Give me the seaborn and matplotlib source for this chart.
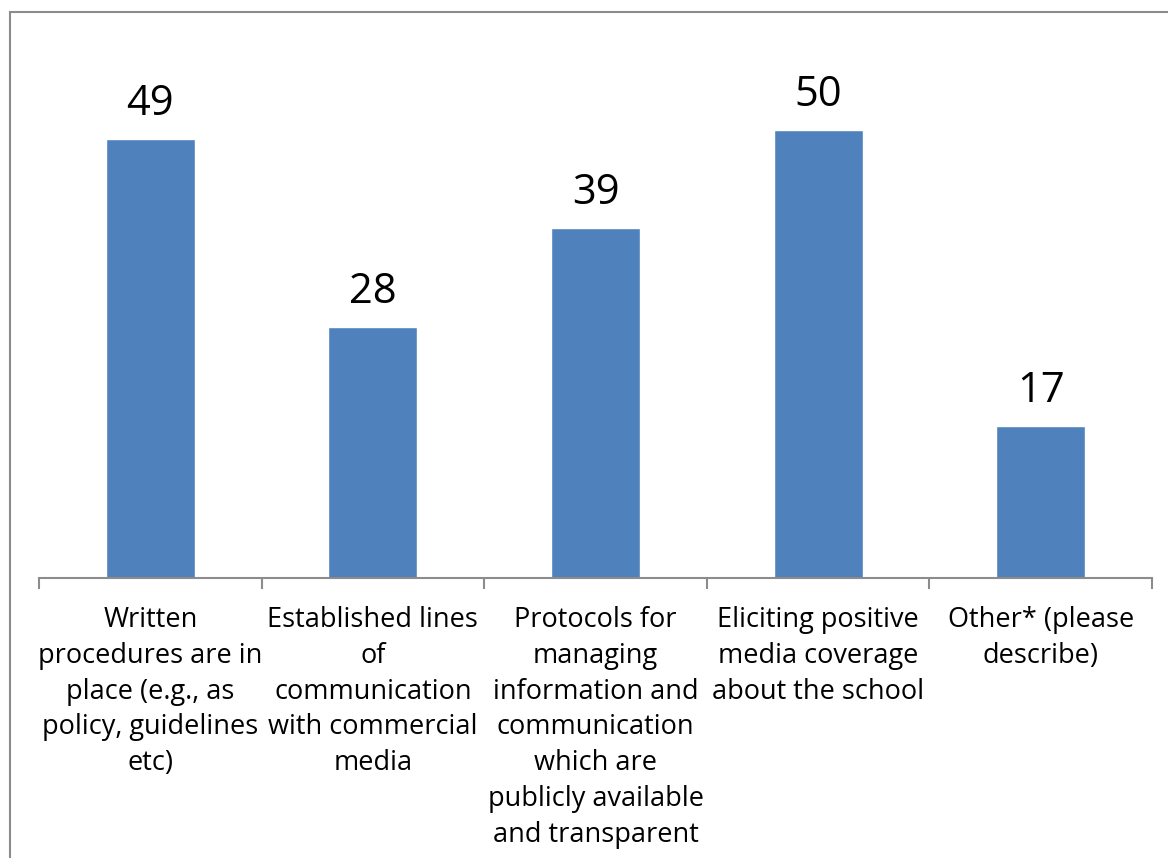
import matplotlib
matplotlib.use("Agg")
import matplotlib.pyplot as plt
from matplotlib.patches import Rectangle
import seaborn as sns
import pandas as pd

categories = [
    "Written\nprocedures are in\nplace (e.g., as\npolicy, guidelines\netc)",
    "Established lines\nof\ncommunication\nwith commercial\nmedia",
    "Protocols for\nmanaging\ninformation and\ncommunication\nwhich are\npublicly available\nand transparent",
    "Eliciting positive\nmedia coverage\nabout the school",
    "Other* (please\ndescribe)",
]
values = [49, 28, 39, 50, 17]

df = pd.DataFrame({"category": categories, "value": values})

sns.set_theme(style="white")
plt.rcParams["font.family"] = ["Open Sans", "DejaVu Sans"]

W, H = 1168, 858
fig = plt.figure(figsize=(W / 100, H / 100), dpi=100)
ax = fig.add_axes([39 / W, (H - 578) / H, (1152 - 39) / W, (578 - 40) / H])

sns.barplot(data=df, x="category", y="value", color="#4F81BD", width=0.4,
            saturation=1, ax=ax)

ax.set_ylim(0, 60)
ax.set_xlim(-0.5, len(categories) - 0.5)
ax.set_xlabel("")
ax.set_ylabel("")
ax.set_yticks([])

for s in ["top", "right", "left"]:
    ax.spines[s].set_visible(False)
ax.spines["bottom"].set_color("#8c8c8c")
ax.spines["bottom"].set_linewidth(1.5)

# category boundaries carry the tick marks; labels sit at the centres
ax.set_xticks([i - 0.5 for i in range(len(categories) + 1)], minor=True)
ax.tick_params(axis="x", which="minor", length=8, width=1.5, color="#8c8c8c",
               direction="out", bottom=True)
ax.tick_params(axis="x", which="major", length=0, pad=20)
ax.set_xticks(range(len(categories)))
ax.set_xticklabels(categories, fontsize=19.5, color="black", linespacing=1.375,
                   va="top", ha="center")

for i, v in enumerate(values):
    ax.annotate(str(v), (i, v), xytext=(0, 10), textcoords="offset points",
                ha="center", va="bottom", fontsize=30, color="black")

# chart frame
fig.patches.append(Rectangle((10 / W, -0.5), 2.0, (H - 12) / H + 0.5,
                             transform=fig.transFigure, fill=False,
                             edgecolor="#8c8c8c", linewidth=1.5))

fig.savefig("out.png", dpi=100, facecolor="white")
